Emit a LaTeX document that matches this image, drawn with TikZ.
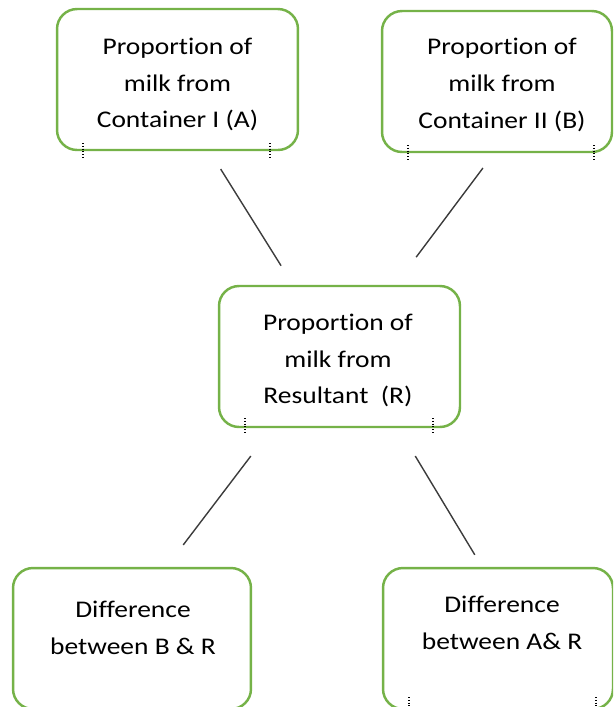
\documentclass[tikz,border=0pt]{standalone}
\usepackage{fontspec}
\setmainfont{Carlito}[FakeStretch=1.15, Ligatures=NoCommon]
\definecolor{boxgreen}{RGB}{117,178,72}
\definecolor{linegrey}{RGB}{60,60,60}
\usetikzlibrary{positioning}
\tikzstyle{base}=[x=0.02cm, y=-0.02cm]
\tikzstyle{box}=[draw=boxgreen, line width=1.4pt, rounded corners=0.4cm, rectangle, inner sep=0pt, minimum height=2.82cm]
\tikzstyle{boxtext}=[align=center, inner sep=0pt, font=\fontsize{13.6}{21}\selectfont]
\tikzstyle{link}=[draw=linegrey, line width=0.8pt]
\tikzstyle{tick}=[black, densely dotted, line width=0.6pt]

\begin{document}
\begin{tikzpicture}[base]
    \useasboundingbox (0,0) rectangle (613,707);
    \clip (0,0) rectangle (613,707);
        % boxes
        \node [box, minimum width=4.82cm] (contA) at (177.5,79.5) {};
        \node [box, minimum width=4.6cm] (contB) at (497,81.5) {};
        \node [box, minimum width=4.82cm] (res) at (339.5,356.5) {};
        \node [box, minimum width=4.76cm] (diffBR) at (132,638.5) {};
        \node [box, minimum width=4.6cm] (diffAR) at (498,638.5) {};
        % texts
        \node [boxtext] (contA-txt) at ([shift={(0,5)}]contA.center) {Proportion of\\milk from\\Container I (A)};
        \node [boxtext] (contB-txt) at ([shift={(5,3.5)}]contB.center) {Proportion of\\milk from\\Container II (B)};
        \node [boxtext] (res-txt) at ([shift={(-1.5,4)}]res.center) {Proportion of\\milk from\\Resultant~ (R)};
        \node [boxtext] (diffBR-txt) at ([shift={(1,-10.5)}]diffBR.center) {Difference\\between B \& R};
        \node [boxtext] (diffAR-txt) at ([shift={(4,-15.7)}]diffAR.center) {Difference\\between A\& R};
        % connectors
        \draw [link, shorten <=0.42cm, shorten >=0.45cm] ([shift={(32,0)}]contA.south) -- ([shift={(-46.5,0)}]res.north);
        \draw [link, shorten <=0.37cm, shorten >=0.69cm] ([shift={(-3,0)}]contB.south) -- ([shift={(56,0)}]res.north);
        \draw [link, shorten <=0.7cm, shorten >=0.55cm] ([shift={(-67.5,0)}]res.south) -- ([shift={(34.6,0)}]diffBR.north);
        \draw [link, shorten <=0.65cm, shorten >=0.28cm] ([shift={(59,0)}]res.south) -- ([shift={(-16,0)}]diffAR.north);
        % small marks under the boxes
        \foreach \x/\y in {83/143, 270/143, 408/145, 594/145, 245/418, 433/418, 409/697, 596/697}
            \draw [tick] (\x,\y) -- ++(0,15);
    \end{tikzpicture}
\end{document}
